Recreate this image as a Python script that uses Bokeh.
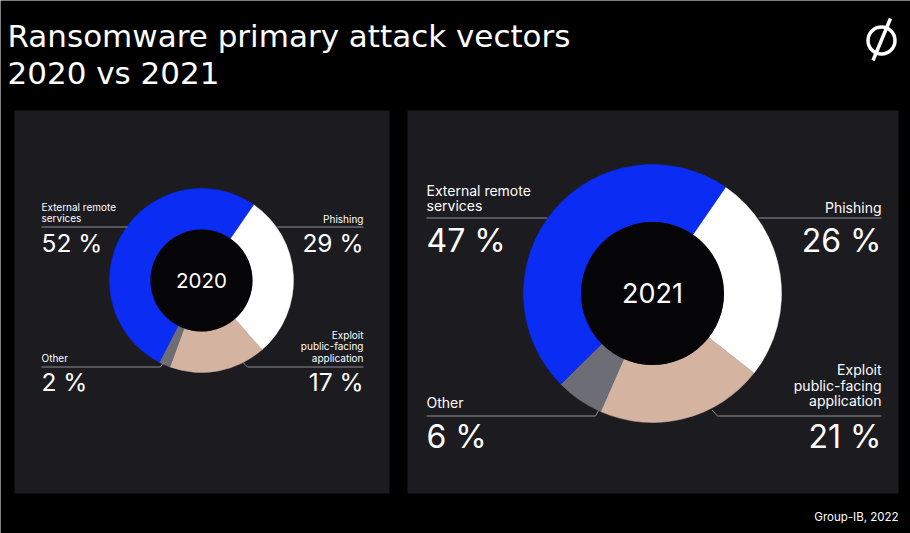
import math
from bokeh.plotting import figure
from bokeh.models import Range1d, ColumnDataSource
from bokeh.core.properties import value
from bokeh.embed import file_html
from bokeh.resources import INLINE

# ---------------- data ----------------
categories = ["External remote services", "Phishing", "Exploit public-facing application", "Other"]
values_2020 = [52, 29, 17, 2]
values_2021 = [47, 26, 21, 6]
years = ["2020", "2021"]
title_lines = ["Ransomware primary attack vectors", "2020 vs 2021"]
source_note = "Group-IB, 2022"

# ---------------- style ----------------
colors = {"External remote services": "#0b2cf2",
          "Phishing": "#ffffff",
          "Exploit public-facing application": "#d4b4a1",
          "Other": "#6d6d75"}
draw_order = ["Phishing", "Exploit public-facing application", "Other", "External remote services"]
W, H = 910, 533
FONT = "Inter"
PANEL = "#1b1b20"
LEADER = "#8e8e94"
BASE_SHIFT = 0.38   # correction so that y is the visual alphabetic baseline


def Y(py):
    return H - py


p = figure(width=W, height=H, x_range=Range1d(0, W), y_range=Range1d(0, H),
           output_backend="svg", toolbar_location=None,
           x_axis_type=None, y_axis_type=None, min_border=0)
p.background_fill_color = "black"
p.border_fill_color = "black"
p.outline_line_color = None
p.xgrid.visible = False
p.ygrid.visible = False

# panels
p.quad(left=[14, 407], right=[389, 898], top=[Y(110), Y(110)], bottom=[Y(493), Y(493)],
       fill_color=PANEL, line_color=None)


def donut(vals, cx, cy, r_in, r_out, start_deg):
    total = float(sum(vals))
    lookup = dict(zip(categories, vals))
    starts, ends, cols = [], [], []
    theta = start_deg
    for c in draw_order:
        span = lookup[c] / total * 360.0
        starts.append(math.radians(90 - theta))
        ends.append(math.radians(90 - theta - span))
        cols.append(colors[c])
        theta += span
    src = ColumnDataSource(dict(x=[cx] * 4, y=[Y(cy)] * 4, s=starts, e=ends, c=cols))
    p.annular_wedge(x="x", y="y", inner_radius=r_in, outer_radius=r_out,
                    start_angle="s", end_angle="e", direction="clock",
                    fill_color="c", line_color="c", line_width=0.5, source=src)
    p.circle(x=[cx], y=[Y(cy)], radius=r_in, fill_color="#050507", line_color=None)


def label(xs, ys, texts, size, align="left", color="white", font=FONT):
    p.text(x=xs, y=[Y(v - BASE_SHIFT * size) for v in ys], text=texts, text_font=value(font),
           text_font_size="%gpx" % size, text_color=color, text_align=align,
           text_baseline="alphabetic")


def leader(xs, ys):
    p.line(x=xs, y=[Y(v) for v in ys], line_color=LEADER, line_width=1)


# ---------- 2020 ----------
donut(values_2020, 201, 280, 51, 92, 34.5)
label([201], [287.5], [years[0]], 20.5, align="center")
label([41, 41], [210, 221], ["External remote", "services"], 10)
leader([41, 127], [226.5, 226.5])
label([41], [251.5], ["%d %%" % values_2020[0]], 24.5)
label([363], [222], ["Phishing"], 10, align="right")
leader([277, 363], [226.5, 226.5])
label([363], [251.5], ["%d %%" % values_2020[1]], 24.5, align="right")
label([363, 363, 363], [338, 349.5, 361], ["Exploit", "public-facing", "application"], 10, align="right")
leader([242, 247, 363], [361.5, 366.5, 366.5])
label([363], [391], ["%d %%" % values_2020[2]], 24.5, align="right")
label([41], [361], ["Other"], 10)
leader([41, 160, 163], [366.5, 366.5, 362])
label([41], [391], ["%d %%" % values_2020[3]], 24.5)

# ---------- 2021 ----------
donut(values_2021, 652, 293, 71.5, 129, 34.5)
label([652], [302.5], [years[1]], 27, align="center")
label([426, 426], [195, 210], ["External remote", "services"], 14)
leader([426, 547], [217.5, 217.5])
label([426], [252.5], ["%d %%" % values_2021[0]], 32)
label([881], [212], ["Phishing"], 14, align="right")
leader([758, 881], [217.5, 217.5])
label([881], [252.5], ["%d %%" % values_2021[1]], 32, align="right")
label([881, 881, 881], [374.5, 390, 405.5], ["Exploit", "public-facing", "application"], 14, align="right")
leader([711.5, 717, 881], [409.5, 415.5, 415.5])
label([881], [448.5], ["%d %%" % values_2021[2]], 32, align="right")
label([426], [407.5], ["Other"], 14)
leader([426, 595, 598], [415.5, 415.5, 410])
label([426], [448.5], ["%d %%" % values_2021[3]], 32)

# ---------- title, logo, source ----------
label([7, 7], [47.5, 84.5], title_lines, 31, font="DejaVu Sans")
p.circle(x=[881], y=[Y(40)], radius=13.5, fill_color=None, line_color="white", line_width=3.5)
p.line(x=[872.5, 890], y=[Y(60), Y(18)], line_color="white", line_width=3.5)
label([898], [521], [source_note], 11.5, align="right")

open("out.html", "w").write(file_html(p, INLINE))
